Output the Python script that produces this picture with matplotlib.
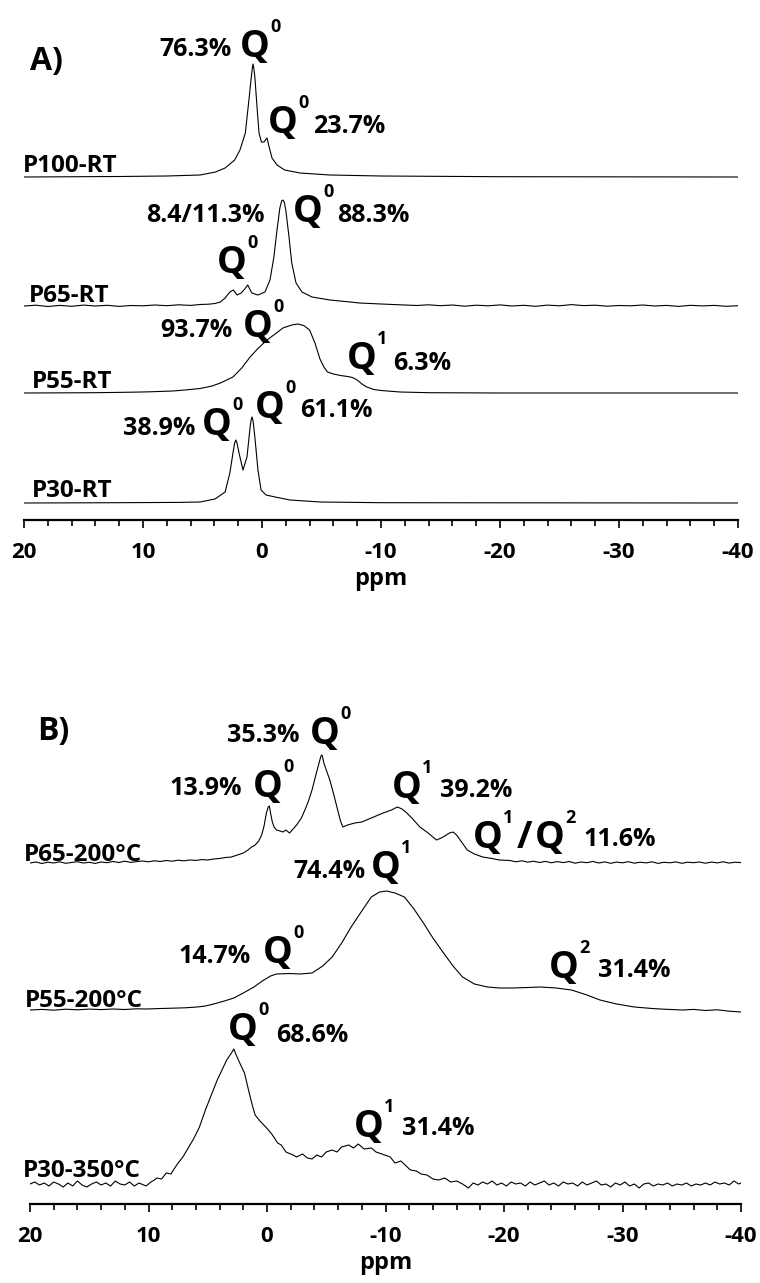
import numpy as np
import matplotlib
matplotlib.use("Agg")
import matplotlib.pyplot as plt
from matplotlib.ticker import MultipleLocator

# spectra: (ppm, intensity a.u.)
P100_RT = [(20, 0), (12, 0.5), (8, 1), (5.2, 2), (3.9, 5), (3.1, 9), (2.3, 17), (1.85, 27),
           (1.4, 44), (1.1, 77), (0.9, 100), (0.8, 110), (0.76, 113), (0.7, 110), (0.6, 100),
           (0.4, 67), (0.25, 44), (0.05, 35), (-0.17, 35), (-0.35, 38), (-0.42, 39), (-0.6, 30),
           (-0.84, 19), (-1.26, 12), (-1.9, 7), (-3.2, 4), (-5.7, 2), (-10, 1), (-20, 0.3), (-40, 0)]

P65_RT = [(20, 0), (19, 0.8), (18, -0.5), (17, 0.6), (16, -0.3), (15, 0.9), (14, 0), (13, 0.7),
          (12, -0.4), (11, 0.5), (10, 0.2), (9, 1.0), (8, 0.3), (7, 1.2), (6, 0.6), (5.2, 1.5),
          (4.5, 1.8), (3.95, 2.5), (3.5, 4), (3.1, 8), (2.7, 14), (2.4, 16), (2.1, 11), (1.75, 13),
          (1.45, 17), (1.2, 21), (0.95, 15), (0.84, 13), (0.34, 11), (-0.25, 14), (-0.67, 26),
          (-1.0, 49), (-1.26, 76), (-1.5, 98), (-1.65, 105), (-1.76, 106), (-1.87, 104), (-2.0, 96),
          (-2.27, 69), (-2.5, 43), (-2.86, 23), (-3.36, 14), (-4.2, 9), (-5.7, 6), (-7, 4.5),
          (-8.2, 3), (-10, 2), (-11.6, 1.2), (-13, 0.5), (-14, 1.2), (-15, 0.3), (-16, 1), (-17, -0.2),
          (-18, 0.8), (-19, 0.2), (-20, 1.1), (-21, 0), (-22, 0.7), (-23, -0.3), (-24, 0.9), (-25, 0.2),
          (-26, 1.4), (-27, 0.4), (-28, 0.8), (-29, -0.2), (-30, 0.5), (-31, 0.2), (-32, 1.0), (-33, 0),
          (-34, 0.6), (-35, -0.4), (-36, 0.7), (-37, 0.1), (-38, 0.6), (-39, -0.3), (-40, 0.3)]

P55_RT = [(20, 0), (14, 0.3), (11, 0.8), (9.4, 1.2), (7.5, 2), (6.5, 3), (5.2, 4.5), (4.2, 7),
          (3.5, 10), (2.44, 16), (1.7, 25), (1.0, 36), (0.3, 45), (-0.42, 53), (-1.1, 59),
          (-1.76, 65), (-2.5, 68), (-3.0, 69), (-3.5, 67.5), (-4.0, 63), (-4.45, 50), (-4.87, 34),
          (-5.2, 26), (-5.5, 21), (-6.0, 19), (-6.6, 17.5), (-7.2, 16.5), (-7.6, 15.5), (-8.0, 13),
          (-8.4, 9), (-8.8, 6), (-9.4, 3.5), (-10, 2.5), (-11.6, 1), (-14, 0.3), (-20, 0), (-40, 0)]

P30_RT = [(20, 0), (12, 0.3), (7, 0.6), (5.2, 1), (3.95, 4), (3.1, 11), (2.7, 30), (2.44, 50),
          (2.3, 60), (2.2, 63), (2.1, 60), (1.93, 50), (1.6, 33), (1.26, 46), (1.0, 76), (0.9, 84),
          (0.84, 86), (0.75, 82), (0.6, 66), (0.34, 33), (0.08, 13), (-0.34, 8), (-1.1, 6),
          (-2.35, 3), (-4.9, 1), (-10, 0.3), (-40, 0)]

P65_200 = [(20, 0), (19.5, 1), (19, -0.5), (18.5, 0.8), (18, 0), (17.5, 1.2), (17, -0.3), (16.5, 0.5),
           (16, 1.3), (15.5, 0), (15, 0.7), (14.5, -0.4), (14, 1.0), (13.5, 0.3), (13, 1.5), (12.5, 0.5),
           (12, 1.8), (11.5, 0.6), (11, 1.4), (10.5, 2.0), (10, 1.2), (9.5, 2.2), (9, 1.5), (8.5, 2.5),
           (8, 1.8), (7.5, 2.8), (7, 2.2), (6.5, 3.0), (6, 2.6), (5.5, 3.4), (5, 3.0), (4.5, 4.0),
           (4.0, 4.5), (3.5, 5.5), (3.0, 6), (2.5, 8), (2.0, 10), (1.6, 13), (1.3, 16), (1.0, 18),
           (0.7, 22), (0.45, 28), (0.25, 37), (0.05, 50), (-0.1, 56), (-0.2, 57), (-0.3, 50),
           (-0.45, 41), (-0.6, 36), (-0.8, 33), (-1.1, 32), (-1.35, 31), (-1.6, 33), (-1.9, 30),
           (-2.2, 34), (-2.5, 38), (-2.9, 45), (-3.2, 53), (-3.5, 62), (-3.8, 73), (-4.1, 87),
           (-4.35, 98), (-4.55, 107), (-4.65, 108), (-4.8, 100), (-5.0, 93), (-5.3, 83), (-5.6, 70),
           (-5.9, 56), (-6.2, 42), (-6.4, 36), (-6.8, 38), (-7.4, 40), (-8.0, 41), (-8.4, 43),
           (-9.0, 46), (-9.8, 50), (-10.5, 53), (-11.0, 56), (-11.4, 54), (-11.8, 50), (-12.3, 44),
           (-12.9, 36), (-13.6, 30), (-14.3, 23), (-14.7, 25), (-15.0, 27), (-15.4, 30), (-15.7, 31),
           (-16.0, 28), (-16.3, 23), (-16.9, 13), (-17.5, 9), (-18.2, 6), (-19, 4.5), (-19.6, 3),
           (-20.5, 2.5), (-21, 1.2), (-21.5, 2.2), (-22, 0.8), (-22.5, 1.8), (-23, 0.5), (-23.5, 1.6),
           (-24, 0.2), (-24.5, 1.4), (-25, 0.4), (-25.5, 1.5), (-26, -0.2), (-26.5, 1.0), (-27, 0.3),
           (-27.5, 1.6), (-28, 0), (-28.5, 1.1), (-29, -0.3), (-29.5, 0.9), (-30, 0.2), (-30.5, 1.3),
           (-31, -0.2), (-31.5, 0.8), (-32, 0.1), (-32.5, 1.2), (-33, -0.4), (-33.5, 0.7), (-34, 0.2),
           (-34.5, 1.1), (-35, -0.3), (-35.5, 0.8), (-36, 0.3), (-36.5, 1.0), (-37, -0.2), (-37.5, 0.9),
           (-38, 0.1), (-38.5, 1.2), (-39, -0.1), (-39.5, 0.8), (-40, 0.4)]

P55_200 = [(20, 0), (19, 0.6), (18, -0.2), (17, 0.8), (16, 0.2), (15, 0.9), (14, 0.4), (13, 1.0),
           (12, 0.5), (11, 1.2), (10.2, 1.0), (9, 1.5), (8, 1.8), (6.9, 2.2), (5.9, 3), (5.2, 4),
           (4.5, 6), (3.6, 9), (2.8, 12), (2.0, 17), (1.1, 23), (0.4, 29), (-0.3, 34), (-0.8, 36),
           (-1.9, 36.5), (-2.8, 36), (-3.8, 37), (-4.7, 44), (-5.5, 53), (-6.3, 67), (-7.1, 83),
           (-8.0, 99), (-8.8, 113), (-9.5, 118), (-10.1, 119), (-10.8, 117), (-11.6, 113), (-12.4, 101),
           (-13.2, 87), (-14.0, 72), (-14.9, 57), (-15.7, 44), (-16.5, 33), (-17.5, 26), (-18.6, 23),
           (-19.6, 22), (-20.7, 22), (-22, 22.5), (-23.1, 23), (-24.4, 22), (-25.7, 20), (-27, 15),
           (-28.1, 10), (-29.5, 6), (-31.0, 3), (-32.5, 1.5), (-33.5, 0.8), (-35.1, 0), (-36, 0.6),
           (-37, -0.5), (-38, 0.2), (-39, -1.2), (-40, -2)]

P30_350 = [(20, 1), (19.6, 3), (19.2, 0), (18.8, 2), (18.4, -1), (18.0, 3), (17.6, 1), (17.2, -2),
           (16.8, 2), (16.4, -1), (16.0, 4), (15.6, 0), (15.2, -2), (14.8, 1), (14.4, 3), (14.0, 0),
           (13.6, 2), (13.2, -1), (12.8, 4), (12.4, 1), (12.0, 0), (11.6, 3), (11.2, -1), (10.8, 2),
           (10.4, 0), (10.2, -1), (9.8, 3), (9.5, 5), (9.3, 7), (8.9, 6), (8.5, 12), (8.1, 11),
           (7.9, 15), (7.5, 22), (7.1, 28), (6.6, 38), (6.2, 46), (5.7, 58), (5.2, 75), (4.7, 90),
           (4.2, 105), (3.8, 115), (3.4, 125), (3.0, 132), (2.8, 136), (2.6, 130), (2.3, 122),
           (1.9, 112), (1.5, 92), (1.2, 78), (1.0, 70), (0.6, 64), (0.1, 58), (-0.4, 51), (-0.9, 42),
           (-1.2, 40), (-1.6, 33), (-2.2, 30), (-2.5, 28), (-3.0, 31), (-3.4, 27), (-3.8, 26),
           (-4.2, 30), (-4.6, 28), (-5.0, 33), (-5.5, 35), (-5.9, 33), (-6.3, 38), (-6.9, 40),
           (-7.3, 37), (-7.7, 41), (-8.2, 36), (-8.8, 37), (-9.2, 33), (-9.7, 31), (-10.4, 28),
           (-10.8, 22), (-11.3, 24), (-12.1, 15), (-12.6, 14), (-13.0, 11), (-13.5, 10), (-14.0, 6),
           (-14.5, 5), (-15.0, 7), (-15.5, 3), (-16.0, 4), (-16.5, 1), (-17.0, -3), (-17.4, 2),
           (-17.8, 0), (-18.2, 3), (-18.6, 1), (-19.0, 4), (-19.4, 0), (-19.8, 2), (-20.2, -1),
           (-20.6, 3), (-21.0, 1), (-21.4, 2), (-21.8, -1), (-22.2, 3), (-22.6, 0), (-23.0, 2),
           (-23.4, 4), (-23.8, 0), (-24.2, 2), (-24.6, -1), (-25.0, 3), (-25.4, 1), (-25.8, 2),
           (-26.2, -1), (-26.6, 3), (-27.0, 0), (-27.4, 2), (-27.8, 4), (-28.2, 0), (-28.6, 1),
           (-29.0, -2), (-29.4, 2), (-29.8, 0), (-30.2, 3), (-30.6, -1), (-31.0, 1), (-31.4, -3),
           (-31.8, 1), (-32.2, 2), (-32.6, -1), (-33.0, 1), (-33.4, 0), (-33.8, 2), (-34.2, -1),
           (-34.6, 1), (-35.0, 0), (-35.4, 2), (-35.8, -1), (-36.2, 1), (-36.6, 0), (-37.0, 2),
           (-37.4, 0), (-37.8, 3), (-38.2, 1), (-38.6, 2), (-39.0, 0), (-39.4, 4), (-39.8, 1), (-40, 2)]

tick_values = [20, 10, 0, -10, -20, -30, -40]
tick_labels = ["20", "10", "0", "-10", "-20", "-30", "-40"]

plt.rcParams['font.family'] = ['Open Sans', 'DejaVu Sans']
plt.rcParams['font.weight'] = 'bold'

W, H = 760, 1283
fig = plt.figure(figsize=(W / 100, H / 100), dpi=100)


def setup(ax):
    ax.set_xlim(20, -40)
    ax.set_ylim(0, 520)
    for s in ['left', 'right', 'top']:
        ax.spines[s].set_visible(False)
    ax.spines['bottom'].set_linewidth(1.6)
    ax.set_yticks([])
    ax.set_xticks(tick_values)
    ax.set_xticklabels(tick_labels)
    ax.xaxis.set_minor_locator(MultipleLocator(2))
    ax.tick_params(axis='x', which='major', direction='out', length=6, width=1.2,
                   labelsize=16, pad=10)
    ax.tick_params(axis='x', which='minor', direction='out', length=4.3, width=1.2)
    ax.set_xlabel("ppm", fontsize=17, fontweight='bold', labelpad=3)
    ax.patch.set_alpha(0)


def spectrum(ax, data, offset):
    x, y = np.array(data).T
    ax.plot(x, y + offset, color='black', lw=0.8)


def qmark(ax, x, y, n):
    ax.text(x, y, "Q", fontsize=27, fontweight='bold', ha='left', va='baseline')
    ax.annotate(n, (x, y), xytext=(30, 25), textcoords='offset pixels',
                fontsize=13, fontweight='bold', ha='left', va='baseline')


def pct(ax, x, y, s, ha):
    ax.text(x, y, s, fontsize=18, fontweight='bold', ha=ha, va='baseline')


def name(ax, x, y, s):
    ax.text(x, y, s, fontsize=17.5, fontweight='bold', ha='left', va='baseline')


# ---- panel A ----
axA = fig.add_axes([24 / W, (H - 520) / H, 714 / W, 520 / H])
setup(axA)
spectrum(axA, P100_RT, 343)
spectrum(axA, P65_RT, 214)
spectrum(axA, P55_RT, 127)
spectrum(axA, P30_RT, 17)

axA.text(19.5, 450, "A)", fontsize=23, fontweight='bold', ha='left', va='baseline')
name(axA, 20.08, 348, "P100-RT")
name(axA, 19.58, 218, "P65-RT")
name(axA, 19.33, 132, "P55-RT")
name(axA, 19.33, 23, "P30-RT")

qmark(axA, 1.85, 463, "0")
pct(axA, 2.52, 464, "76.3%", 'right')
qmark(axA, -0.5, 387, "0")
pct(axA, -4.29, 387, "23.7%", 'left')
qmark(axA, -2.6, 298, "0")
pct(axA, -0.25, 298, "8.4/11.3%", 'right')
pct(axA, -6.3, 298, "88.3%", 'left')
qmark(axA, 3.78, 247, "0")
qmark(axA, 1.6, 183, "0")
pct(axA, 2.52, 183, "93.7%", 'right')
qmark(axA, -7.14, 151, "1")
pct(axA, -11.0, 150, "6.3%", 'left')
qmark(axA, 5.04, 85, "0")
pct(axA, 5.63, 85, "38.9%", 'right')
qmark(axA, 0.59, 102, "0")
pct(axA, -3.19, 103, "61.1%", 'left')

# ---- panel B ----
axB = fig.add_axes([30 / W, (H - 1204) / H, 711 / W, 520 / H])
setup(axB)
spectrum(axB, P65_200, 341)
spectrum(axB, P55_200, 194)
spectrum(axB, P30_350, 19)

axB.text(19.4, 464, "B)", fontsize=23, fontweight='bold', ha='left', va='baseline')
name(axB, 20.5, 343, "P65-200°C")
name(axB, 20.4, 197, "P55-200°C")
name(axB, 20.6, 27, "P30-350°C")

qmark(axB, -3.63, 460, "0")
pct(axB, -2.78, 462, "35.3%", 'right')
qmark(axB, 1.18, 407, "0")
pct(axB, 2.11, 409, "13.9%", 'right')
qmark(axB, -10.55, 406, "1")
pct(axB, -14.6, 407, "39.2%", 'left')
qmark(axB, -17.4, 356, "1")
axB.text(-21.1, 356, "/", fontsize=27, fontweight='bold', ha='left', va='baseline')
qmark(axB, -22.6, 356, "2")
pct(axB, -26.7, 358, "11.6%", 'left')
qmark(axB, -8.78, 326, "1")
pct(axB, -8.35, 326, "74.4%", 'right')
qmark(axB, 0.34, 241, "0")
pct(axB, 1.35, 241, "14.7%", 'right')
qmark(axB, -23.8, 226, "2")
pct(axB, -27.9, 227, "31.4%", 'left')
qmark(axB, 3.29, 164, "0")
pct(axB, -0.76, 162, "68.6%", 'left')
qmark(axB, -7.34, 67, "1")
pct(axB, -11.4, 69, "31.4%", 'left')

plt.savefig("out.png", dpi=100)
